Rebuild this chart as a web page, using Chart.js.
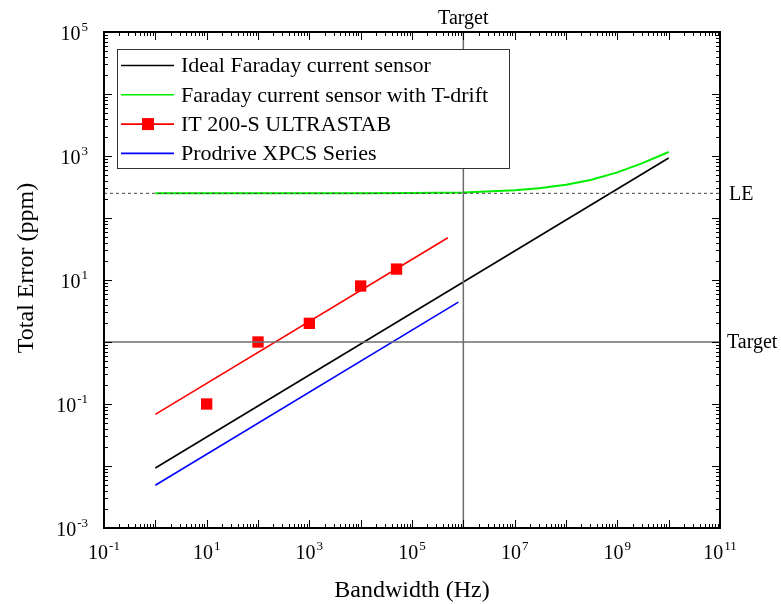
<!DOCTYPE html>
<html lang="en">
  <head>
    <meta charset="UTF-8" />
    <title>Total Error vs Bandwidth</title>
    <script src="https://cdn.jsdelivr.net/npm/chart.js"></script>
    <style>
      body {
        margin: 0;
        background-color: #ffffff;
      }
      .chart-container {
        position: relative;
        width: 781px;
        height: 604px;
      }
    </style>
  </head>
  <body>
    <div class="chart-container">
      <canvas id="errorChart"></canvas>
    </div>

    <script>
      // series (bandwidth in Hz, error in ppm)
      const idealFreq = [1, 1e10];
      const idealErr = [0.0093, 930];

      const driftFreq = [1, 1e2, 1e4, 1e5, 1e6, 1e7, 3e7, 1e8, 3e8, 1e9, 3e9, 1e10];
      const driftErr = [250, 250, 251, 253, 259, 280, 301, 343, 411, 544, 760, 1160];

      const itFreq = [1, 5e5];
      const itErr = [0.068, 48];
      const itMeasFreq = [10, 100, 1e3, 1e4, 5e4];
      const itMeasErr = [0.1, 1.0, 2.0, 8.0, 15];

      const xpcsFreq = [1, 8e5];
      const xpcsErr = [0.0049, 4.4];

      // reference lines
      const targetBandwidth = 1e6;
      const targetError = 1;
      const leError = 250;

      // axis ranges / labelled decades
      const xMin = 1e-1, xMax = 1e11;
      const yMin = 1e-3, yMax = 1e5;
      const xLabelExps = [-1, 1, 3, 5, 7, 9, 11];
      const yLabelExps = [-3, -1, 1, 3, 5];

      const legendItems = [
        { label: "Ideal Faraday current sensor", color: "#000000", marker: false },
        { label: "Faraday current sensor with T-drift", color: "#00ee00", marker: false },
        { label: "IT 200-S ULTRASTAB", color: "#ff0000", marker: true },
        { label: "Prodrive XPCS Series", color: "#0000ff", marker: false },
      ];

      const pts = (xs, ys) => xs.map((x, i) => ({ x: x, y: ys[i] }));
      const SERIF = "'Liberation Serif', 'Times New Roman', serif";

      function lineSet(label, data, color, extra) {
        return Object.assign(
          {
            label: label,
            data: data,
            borderColor: color,
            backgroundColor: color,
            borderWidth: 1.6,
            pointRadius: 0,
            showLine: true,
            tension: 0,
          },
          extra || {}
        );
      }

      // draw "10" with a raised exponent
      function drawPow(ctx, exp, x, y, align) {
        const base = "10";
        const sup = String(exp);
        ctx.font = "20px " + SERIF;
        const wb = ctx.measureText(base).width;
        ctx.font = "13px " + SERIF;
        const ws = ctx.measureText(sup).width;
        const total = wb + ws + 1;
        let left = x;
        if (align === "center") left = x - total / 2;
        if (align === "right") left = x - total;
        ctx.textAlign = "left";
        ctx.textBaseline = "alphabetic";
        ctx.font = "20px " + SERIF;
        ctx.fillText(base, left, y);
        ctx.font = "13px " + SERIF;
        ctx.fillText(sup, left + wb + 1, y - 9);
      }

      const framePlugin = {
        id: "frame",
        afterDatasetsDraw(chart) {
          const { ctx, chartArea: a, scales } = chart;
          const xs = scales.x, ys = scales.y;
          ctx.save();
          ctx.fillStyle = "#000";
          ctx.strokeStyle = "#000";

          // ticks inward on all four sides
          ctx.lineWidth = 1;
          for (let e = -1; e <= 11; e++) {
            for (let m = 1; m <= 9; m++) {
              const v = m * Math.pow(10, e);
              if (v > xMax * 1.0001) continue;
              const px = Math.round(xs.getPixelForValue(v)) + 0.5;
              const len = m === 1 ? 8 : 4;
              ctx.beginPath();
              ctx.moveTo(px, a.bottom);
              ctx.lineTo(px, a.bottom - len);
              ctx.moveTo(px, a.top);
              ctx.lineTo(px, a.top + len);
              ctx.stroke();
            }
          }
          for (let e = -3; e <= 5; e++) {
            for (let m = 1; m <= 9; m++) {
              const v = m * Math.pow(10, e);
              if (v > yMax * 1.0001) continue;
              const py = Math.round(ys.getPixelForValue(v)) + 0.5;
              const len = m === 1 ? 8 : 4;
              ctx.beginPath();
              ctx.moveTo(a.left, py);
              ctx.lineTo(a.left + len, py);
              ctx.moveTo(a.right, py);
              ctx.lineTo(a.right - len, py);
              ctx.stroke();
            }
          }

          // frame
          ctx.lineWidth = 2;
          ctx.strokeRect(a.left, a.top, a.right - a.left, a.bottom - a.top);

          // tick labels
          xLabelExps.forEach((e) => {
            drawPow(ctx, e, xs.getPixelForValue(Math.pow(10, e)), a.bottom + 31, "center");
          });
          yLabelExps.forEach((e) => {
            drawPow(ctx, e, a.left - 16, ys.getPixelForValue(Math.pow(10, e)) + 8, "right");
          });

          // axis titles
          ctx.font = "24px " + SERIF;
          ctx.textAlign = "center";
          ctx.textBaseline = "alphabetic";
          ctx.fillText("Bandwidth (Hz)", (a.left + a.right) / 2, 597);
          ctx.save();
          ctx.translate(33, 268);
          ctx.rotate(-Math.PI / 2);
          ctx.fillText("Total Error (ppm)", 0, 0);
          ctx.restore();

          // reference line labels
          ctx.font = "20px " + SERIF;
          ctx.textAlign = "center";
          ctx.fillText("Target", xs.getPixelForValue(targetBandwidth), a.top - 8);
          ctx.textAlign = "left";
          ctx.textBaseline = "middle";
          ctx.fillText("LE", a.right + 9, ys.getPixelForValue(leError) + 1);
          ctx.fillText("Target", a.right + 7, ys.getPixelForValue(targetError) + 1);

          // legend box
          const bx = 117, by = 49, bw = 392, bh = 119;
          ctx.fillStyle = "#fff";
          ctx.fillRect(bx, by, bw, bh);
          ctx.strokeStyle = "#333";
          ctx.lineWidth = 1;
          ctx.strokeRect(bx + 0.5, by + 0.5, bw, bh);
          ctx.font = "22px " + SERIF;
          ctx.textBaseline = "middle";
          ctx.textAlign = "left";
          legendItems.forEach((it, i) => {
            const y = 65.5 + i * 29.3;
            ctx.strokeStyle = it.color;
            ctx.lineWidth = 1.6;
            ctx.beginPath();
            ctx.moveTo(121, y);
            ctx.lineTo(174, y);
            ctx.stroke();
            if (it.marker) {
              ctx.fillStyle = it.color;
              ctx.fillRect(142, y - 6, 12, 12);
            }
            ctx.fillStyle = "#000";
            ctx.fillText(it.label, 181, y + 1);
          });
          ctx.restore();
        },
      };

      const ctx = document.getElementById("errorChart").getContext("2d");
      const chart = new Chart(ctx, {
        type: "scatter",
        data: {
          datasets: [
            lineSet("LE", [{ x: xMin, y: leError }, { x: xMax, y: leError }], "#444444", {
              borderWidth: 1,
              borderDash: [3, 3],
            }),
            lineSet("Target error", [{ x: xMin, y: targetError }, { x: xMax, y: targetError }], "#6e6e6e", {
              borderWidth: 1.5,
            }),
            lineSet("Target bandwidth", [{ x: targetBandwidth, y: yMin }, { x: targetBandwidth, y: yMax }], "#6e6e6e", {
              borderWidth: 1.5,
            }),
            lineSet(legendItems[3].label, pts(xpcsFreq, xpcsErr), "#0000ff"),
            lineSet(legendItems[0].label, pts(idealFreq, idealErr), "#000000"),
            lineSet(legendItems[1].label, pts(driftFreq, driftErr), "#00ee00", { borderWidth: 2 }),
            lineSet(legendItems[2].label, pts(itFreq, itErr), "#ff0000"),
            {
              label: "IT 200-S measured",
              data: pts(itMeasFreq, itMeasErr),
              showLine: false,
              pointStyle: "rect",
              pointRadius: 8,
              pointHoverRadius: 8,
              borderWidth: 0,
              backgroundColor: "#ff0000",
              borderColor: "#ff0000",
            },
          ],
        },
        options: {
          responsive: true,
          maintainAspectRatio: false,
          animation: false,
          layout: { padding: { left: 0, right: 61, top: 32, bottom: 0 } },
          plugins: {
            legend: { display: false },
            tooltip: { enabled: false },
          },
          scales: {
            x: {
              type: "logarithmic",
              min: xMin,
              max: xMax,
              grid: { display: false },
              border: { display: false },
              ticks: { display: false },
              afterFit(scale) {
                scale.height = 76;
              },
            },
            y: {
              type: "logarithmic",
              min: yMin,
              max: yMax,
              grid: { display: false },
              border: { display: false },
              ticks: { display: false },
              afterFit(scale) {
                scale.width = 104;
              },
            },
          },
        },
        plugins: [framePlugin],
      });
    </script>
  </body>
</html>
